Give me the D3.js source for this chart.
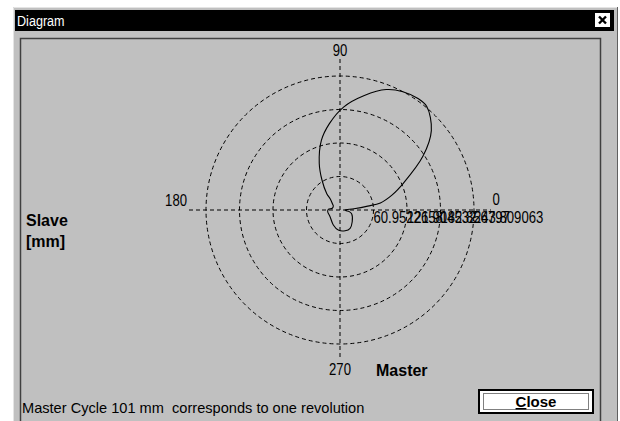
<!DOCTYPE html>
<html>
<head>
<meta charset="utf-8">
<script src="https://cdn.jsdelivr.net/npm/d3@7/dist/d3.min.js"></script>
<style>
  html, body { margin: 0; padding: 0; background: #fff; }
  svg { display: block; }
  text { font-family: "Liberation Sans", Arial, sans-serif; }
</style>
</head>
<body>
<svg id="chart" width="620" height="421"></svg>
<script>
// Cam profile: master position (degrees of one revolution) vs. slave position (mm)
const masterDeg = [0, 5, 8, 10, 16, 23, 33, 41, 50, 55, 62, 69, 78, 88, 97, 105, 114, 121,
                   129, 131, 140, 149, 167, 177, 188, 214, 246, 265, 284, 299, 316, 341, 350, 354];
const slaveMm   = [9.1, 25.5, 50.9, 74.6, 98.3, 125.5, 180.1, 220.2, 245.6, 247.5, 243.8, 234.7,
                   212.9, 187.4, 158.3, 131.0, 92.8, 63.7, 38.2, 27.3, 18.2, 14.2, 14.4, 21.3,
                   22.6, 21.8, 29.8, 36.6, 38.8, 38.0, 30.9, 22.6, 17.1, 10.4];

// Radial grid rings and their labels
const ringValues = [60.9522658, 121.904532, 182.856797, 243.809063];
const ringLabels = ["60.9522658", "121.904532", "182.856797", "243.809063"];

// Angle labels of the master axis
const angleValues = [0, 90, 180, 270];
const angleLabels = ["0", "90", "180", "270"];

const svg = d3.select("#chart");
const gray = "#c0c0c0";

// ---- window frame ----
svg.append("rect").attr("x", 13).attr("y", 7).attr("width", 605).attr("height", 420)
  .attr("fill", gray);
svg.append("path").attr("d", "M13.5,427V7.5H617.5V427").attr("fill", "none")
  .attr("stroke", "#e4e4e4").attr("stroke-width", 1);
svg.append("path").attr("d", "M617.5,7V427").attr("stroke", "#606060");
svg.append("rect").attr("x", 15).attr("y", 10).attr("width", 599).attr("height", 21)
  .attr("fill", "#000");
svg.append("text").attr("transform", "translate(17,26) scale(0.84,1)")
  .attr("fill", "#fff").attr("font-size", 15).text("Diagram");
// close box in the title bar
svg.append("rect").attr("x", 595).attr("y", 13).attr("width", 15).attr("height", 14)
  .attr("fill", "#fff");
svg.append("path").attr("d", "M599,16.5L606,23.5M606,16.5L599,23.5")
  .attr("stroke", "#000").attr("stroke-width", 2.4);

// sunken client panel
svg.append("path").attr("d", "M20.5,430V38.5H600.5V430").attr("fill", "none")
  .attr("stroke", "#404040").attr("stroke-width", 1.5);

// ---- polar plot ----
const cx = 340, cy = 210;
const r = d3.scaleLinear().domain([0, d3.max(ringValues)]).range([0, 134]);
const axisLen = 151;
const dash = "4,3";

const plot = svg.append("g").attr("transform", `translate(${cx},${cy})`);

plot.selectAll("circle.ring").data(ringValues).join("circle")
  .attr("class", "ring").attr("r", d => r(d))
  .attr("fill", "none").attr("stroke", "#000").attr("stroke-width", 1)
  .attr("stroke-dasharray", dash);

plot.append("line").attr("x1", -axisLen).attr("x2", axisLen).attr("y1", 0).attr("y2", 0)
  .attr("stroke", "#000").attr("stroke-dasharray", dash);
plot.append("line").attr("x1", 0).attr("x2", 0).attr("y1", -axisLen).attr("y2", axisLen - 4)
  .attr("stroke", "#000").attr("stroke-dasharray", dash);

// narrow digits: horizontally condensed sans
function narrowText(g, x, y, anchor, str) {
  g.append("text").attr("transform", `translate(${x},${y}) scale(0.82,1)`)
    .attr("text-anchor", anchor).attr("font-size", 16).attr("fill", "#000").text(str);
}

// ring value labels along the 0° axis
ringValues.forEach((v, i) => narrowText(plot, r(v), 13, "start", ringLabels[i]));

// angle labels
angleValues.forEach((a, i) => {
  if (a === 0)   narrowText(plot, axisLen + 1.5, -5, "start", angleLabels[i]);
  if (a === 90)  narrowText(plot, 0, -154, "middle", angleLabels[i]);
  if (a === 180) narrowText(plot, -axisLen - 2, -4, "end", angleLabels[i]);
  if (a === 270) narrowText(plot, 0, 165, "middle", angleLabels[i]);
});

// cam curve
const pts = masterDeg.map((d, i) => [d, slaveMm[i]]);
const line = d3.lineRadial()
  .angle(d => (90 - d[0]) * Math.PI / 180)
  .radius(d => r(d[1]))
  .curve(d3.curveCatmullRomClosed.alpha(0.5));
plot.append("path").attr("d", line(pts))
  .attr("fill", "none").attr("stroke", "#000").attr("stroke-width", 1.1);

// axis titles
const boldFont = '"DejaVu Sans", sans-serif';
svg.append("text").attr("x", 26).attr("y", 226).attr("font-family", boldFont)
  .attr("font-weight", "bold").attr("font-size", 16).text("Slave");
svg.append("text").attr("x", 26).attr("y", 247).attr("font-family", boldFont)
  .attr("font-weight", "bold").attr("font-size", 16).text("[mm]");
svg.append("text").attr("x", 376).attr("y", 376).attr("font-family", boldFont)
  .attr("font-weight", "bold").attr("font-size", 16).text("Master");

// status line
svg.append("text").attr("x", 22).attr("y", 413).attr("font-size", 14.6)
  .style("white-space", "pre").text("Master Cycle 101 mm  corresponds to one revolution");

// Close button
svg.append("rect").attr("x", 479).attr("y", 390).attr("width", 114).attr("height", 23)
  .attr("fill", "#fff").attr("stroke", "#000").attr("stroke-width", 2);
svg.append("rect").attr("x", 483.5).attr("y", 393.5).attr("width", 105).attr("height", 16)
  .attr("fill", "none").attr("stroke", "#000").attr("stroke-width", 1)
  .attr("stroke-dasharray", "1,1");
const closeT = svg.append("text").attr("x", 536).attr("y", 407).attr("text-anchor", "middle")
  .attr("font-size", 15).attr("font-weight", "bold");
closeT.append("tspan").attr("text-decoration", "underline").text("C");
closeT.append("tspan").text("lose");
</script>
</body>
</html>
